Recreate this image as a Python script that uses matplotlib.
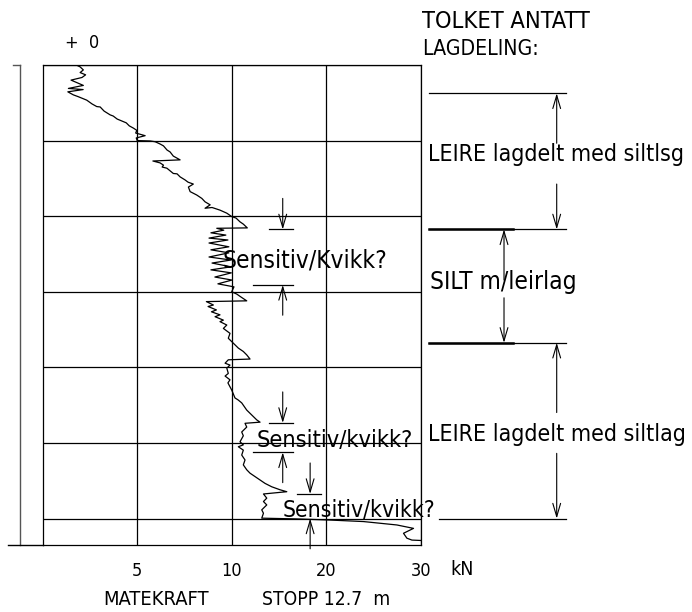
import numpy as np
import matplotlib
matplotlib.use('Agg')
import matplotlib.pyplot as plt
import matplotlib.transforms as mtransforms

plt.rcParams['font.family'] = ['DejaVu Sans']
plt.rcParams['font.stretch'] = 'condensed'

# matekraft (kN) mot dybde (m), lest av sonderingen
force_kn = [0.0, 1.82, 1.98, 2.15, 1.98, 2.27, 2.08, 1.50, 2.15, 1.36, 2.14, 1.33,
            1.62, 1.89, 2.33, 2.61, 2.86, 3.04, 3.25, 3.57, 3.73, 3.94, 4.27, 4.42,
            4.58, 4.80, 4.98, 4.92, 5.42, 4.95, 5.00,
            5.69, 5.95, 6.21, 6.39, 6.58, 6.74, 6.91, 7.27, 5.83, 6.21, 6.39, 6.32,
            6.57, 6.74, 6.91, 7.11, 7.27, 7.53, 7.69, 7.97, 7.71, 7.80, 8.15, 8.42,
            8.59, 8.86, 8.59, 8.96, 9.38, 9.74, 10.0,
            10.46, 10.88, 11.23, 11.65, 9.21, 9.58, 8.90, 9.69, 8.80, 9.80, 8.80,
            9.85, 8.90, 9.85, 8.80, 9.96, 8.96, 9.96, 8.90, 9.98, 9.11, 10.03, 9.27,
            10.24, 10.0,
            10.53, 10.99, 11.59, 8.66, 9.03, 8.75, 9.19, 8.93, 9.38, 9.12, 9.56, 9.38,
            9.74, 9.56, 9.91, 9.82, 10.17, 10.70, 11.23, 11.59, 11.94, 9.82, 9.65,
            9.91, 9.74, 9.82, 9.65, 9.91, 9.80, 10.0, 10.35, 10.67, 11.06, 11.59,
            12.12, 12.65, 13.0, 11.41,
            11.59, 11.06, 11.23, 10.88, 11.23, 10.70, 11.23, 11.06, 11.41, 11.23,
            11.59, 11.94, 12.47, 13.0, 13.53, 14.24, 15.13, 15.83, 13.36, 13.71,
            13.36, 13.71, 13.18, 13.36, 13.18, 16.89, 20.42, 23.95, 27.48, 29.24,
            28.18, 28.54, 29.07, 30.0]
depth_m = [0.0, 0.01, 0.05, 0.13, 0.20, 0.26, 0.33, 0.40, 0.54, 0.62, 0.65, 0.71,
           0.79, 0.84, 0.93, 1.03, 1.10, 1.11, 1.22, 1.32, 1.35, 1.43, 1.50, 1.53,
           1.61, 1.67, 1.73, 1.80, 1.87, 1.93, 2.00,
           2.01, 2.03, 2.09, 2.14, 2.25, 2.30, 2.41, 2.51, 2.54, 2.59, 2.65, 2.70,
           2.73, 2.80, 2.87, 2.88, 2.96, 3.04, 3.10, 3.15, 3.23, 3.35, 3.44, 3.53,
           3.62, 3.70, 3.79, 3.77, 3.84, 3.92, 4.01,
           4.05, 4.15, 4.21, 4.31, 4.32, 4.37, 4.44, 4.50, 4.58, 4.63, 4.71,
           4.81, 4.89, 4.97, 5.08, 5.16, 5.24, 5.34, 5.42, 5.50, 5.61, 5.69, 5.79,
           5.87, 6.00,
           6.06, 6.14, 6.24, 6.26, 6.35, 6.39, 6.48, 6.53, 6.61, 6.66, 6.75, 6.79,
           6.88, 6.97, 7.10, 7.23, 7.36, 7.49, 7.58, 7.67, 7.78, 7.80, 7.89,
           7.94, 8.02, 8.16, 8.23, 8.33, 8.41, 8.60, 8.81, 8.86, 8.94, 9.13,
           9.26, 9.39, 9.45, 9.48,
           9.58, 9.71, 9.81, 9.97, 10.05, 10.10, 10.19, 10.32, 10.45, 10.58,
           10.71, 10.80, 10.89, 10.98, 11.07, 11.16, 11.24, 11.29, 11.35, 11.46,
           11.55, 11.64, 11.77, 11.86, 11.99, 12.01, 12.04, 12.08, 12.17, 12.26,
           12.39, 12.52, 12.57, 12.58]

scale_kn = [0, 5, 10, 20, 30]
tick_kn = [5, 10, 20, 30]
depth_grid = [0, 2, 4, 6, 8, 10, 12]
stop_depth = 12.7

# tolket lagdeling
layer_bounds = [0.75, 4.35, 7.35, 12.0]
layer_labels = ['LEIRE lagdelt med siltlsg', 'SILT m/leirlag', 'LEIRE lagdelt med siltlag']

# sensitive soner: (topp, bunn)
sens_zones = [(4.35, 5.82), (9.47, 10.25), (11.35, 12.0)]
sens_labels = ['Sensitiv/Kvikk?', 'Sensitiv/kvikk?', 'Sensitiv/kvikk?']

W, H = 692, 612
fig = plt.figure(figsize=(W / 100, H / 100), dpi=100)
# pixel coords from top-left, for layout of loose text
px = mtransforms.Affine2D().scale(1 / W, -1 / H).translate(0, 1) + fig.transFigure

ax = fig.add_axes([42.7 / W, 1 - 545 / H, 378 / W, 480 / H])
pos = np.arange(len(scale_kn))
ax.set_xscale('function', functions=(lambda x: np.interp(x, scale_kn, pos),
                                     lambda u: np.interp(u, pos, scale_kn)))
ax.set_xlim(0, 30)
ax.set_ylim(stop_depth, 0)

ax.plot(force_kn, depth_m, color='black', lw=0.9)

ax.set_xticks(tick_kn)
ax.set_xticklabels([str(t) for t in tick_kn], fontsize=13)
ax.set_yticks(depth_grid)
ax.tick_params(axis='x', length=0, pad=12.5)
ax.tick_params(axis='y', length=0, labelleft=False)
ax.grid(True, color='black', lw=0.9)
for s in ax.spines.values():
    s.set_linewidth(0.9)

# left depth bar
xt = ax.get_yaxis_transform()  # x axes-frac, y data
ax.plot([-0.060, -0.060], [0, stop_depth], transform=xt, color='#555555', lw=1.0, clip_on=False)
ax.plot([-0.079, -0.060], [0, 0], transform=xt, color='#555555', lw=1.0, clip_on=False)
ax.plot([-0.092, 0], [stop_depth, stop_depth], transform=xt, color='black', lw=1.0, clip_on=False)

arrow_kw = dict(arrowstyle='->,head_length=0.95,head_width=0.28', color='black', lw=0.8,
                shrinkA=0, shrinkB=0, mutation_scale=10)


def arrow(x0, y0, x1, y1, trans):
    ax.annotate('', xy=(x1, y1), xytext=(x0, y0), xycoords=trans, textcoords=trans,
                arrowprops=arrow_kw, annotation_clip=False)


# layer boundaries on the right
for i, d in enumerate(layer_bounds):
    x0 = 1.048 if i == len(layer_bounds) - 1 else 1.022
    ax.plot([x0, 1.384], [d, d], transform=xt, color='black', lw=0.9, clip_on=False)
    if 0 < i < len(layer_bounds) - 1:
        ax.plot([1.022, 1.245], [d, d], transform=xt, color='black', lw=1.8, clip_on=False)

# layer 1 and 3: arrows at x=1.36, text in the middle
for (top, bot), lab, ty in [((layer_bounds[0], layer_bounds[1]), layer_labels[0], 161),
                            ((layer_bounds[2], layer_bounds[3]), layer_labels[2], 441)]:
    mid = (top + bot) / 2
    arrow(1.3598, mid - 0.48, 1.3598, top, xt)
    arrow(1.3598, mid + 0.6, 1.3598, bot, xt)
    ax.text(428, ty, lab, transform=px, fontsize=16.6, va='baseline', ha='left')

# silt layer: arrows at x=1.22
arrow(1.2204, 5.69, 1.2204, layer_bounds[1], xt)
arrow(1.2204, 6.16, 1.2204, layer_bounds[2], xt)
ax.text(430, 289, layer_labels[1], transform=px, fontsize=17.6, va='baseline', ha='left')

# sensitive zones
sens_x = [15.4, 15.4, 18.3]
bar_top = [(13.96, 16.5), (13.96, 16.5), (16.9, 19.4)]
bar_bot = [(12.26, 16.5), (12.26, 16.5), None]
sens_text = [(223, 267), (257, 447), (283, 517)]
sens_size = [17.6, 16.9, 16.5]
for (top, bot), xs, bt, bb, (tx, ty), fs, lab in zip(sens_zones, sens_x, bar_top, bar_bot,
                                                       sens_text, sens_size, sens_labels):
    ax.plot(bt, [top, top], color='black', lw=0.9, clip_on=False)
    arrow(xs, top - 0.82, xs, top, ax.transData)
    if bb is not None:
        ax.plot(bb, [bot, bot], color='black', lw=0.9, clip_on=False)
    arrow(xs, bot + 0.8, xs, bot, ax.transData)
    ax.text(tx, ty, lab, transform=px, fontsize=fs, va='baseline', ha='left')

# headers and footers
ax.text(65, 48, '+  0', transform=px, fontsize=13, va='baseline', ha='left')
ax.text(422, 28, 'TOLKET ANTATT', transform=px, fontsize=16.9, va='baseline', ha='left')
ax.text(422, 55, 'LAGDELING:', transform=px, fontsize=15.2, va='baseline', ha='left')
ax.text(450, 575, 'kN', transform=px, fontsize=14, va='baseline', ha='left')
ax.text(103, 605, 'MATEKRAFT', transform=px, fontsize=14.4, va='baseline', ha='left')
ax.text(262, 605, 'STOPP 12.7  m', transform=px, fontsize=13.9, va='baseline', ha='left')

fig.savefig('out.png', dpi=100)
